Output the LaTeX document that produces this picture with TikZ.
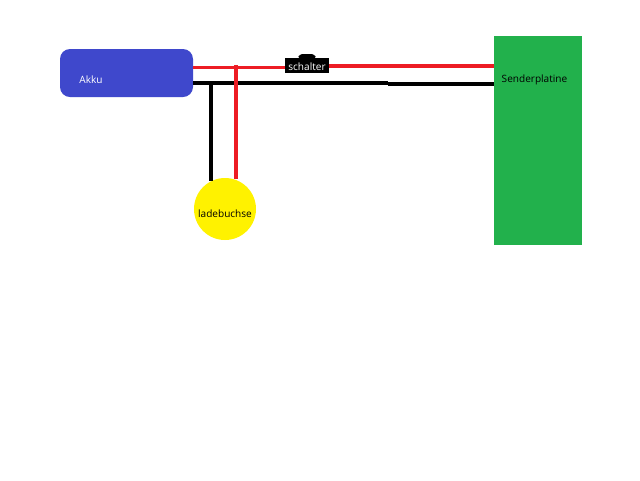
\documentclass[tikz,border=0pt]{standalone}
\usepackage{fontspec}
\setmainfont{Open Sans}
\begin{document}
\begin{tikzpicture}[x=0.75pt,y=-0.75pt,
  block/.style={draw=none,inner sep=0pt,outer sep=0pt,minimum width=#1},
  lbl/.style={inner sep=0pt,font=\fontsize{7.55pt}{9pt}\selectfont},
  redwire/.style={draw=wirered,line width=2.8pt},
  blackwire/.style={draw=black,line width=2.8pt}]
\definecolor{akkublue}{HTML}{3F48CC}
\definecolor{platgreen}{HTML}{22B14C}
\definecolor{wirered}{HTML}{ED1C24}
\definecolor{buchse}{HTML}{FFF200}
\useasboundingbox (0,0) rectangle (640,480);
\fill[white] (0,0) rectangle (640,480);
\node[block=133*0.75pt,minimum height=36pt,fill=akkublue,rounded corners=7.5pt] (akku) at (126.5,73) {};
\node[block=88*0.75pt,minimum height=156.75pt,fill=platgreen] (platine) at (538,140.5) {};
\node[circle,fill=buchse,inner sep=0pt,minimum size=46.5pt] (lade) at (225,209) {};
\node[block=44*0.75pt,minimum height=11.25pt,fill=black] (schalter) at (307,65.5) {};
\fill[black,rounded corners=2.5pt] (298,59) -- (299,54) -- (315,54) -- (316,59) -- cycle;
\coordinate (redjoint) at (236,65);
\coordinate (blackjoint) at (211,81.5);
\coordinate (blackstep) at (388,84);
\coordinate (redtop) at (236,179);
\coordinate (blacktop) at (211,181);
\draw[redwire] (193,67.5) -- (schalter.west |- 0,67.5);
\draw[redwire] (schalter.east |- 0,66) -- (platine.west |- 0,66);
\draw[blackwire] (193,83) -- (blackstep |- 0,83);
\draw[blackwire] (blackstep) -- (platine.west |- blackstep);
\draw[blackwire] (blackjoint) -- (blacktop);
\draw[redwire] (redjoint) -- (redtop);
\node[lbl,text=white] (akkutext) at (91,80) {Akku};
\node[lbl,text=white] (schaltertext) at (307,67) {schalter};
\node[lbl,text=black] (platinetext) at (534.5,79.5) {Senderplatine};
\node[lbl,text=black] (ladetext) at (225,213.5) {ladebuchse};
\end{tikzpicture}
\end{document}
